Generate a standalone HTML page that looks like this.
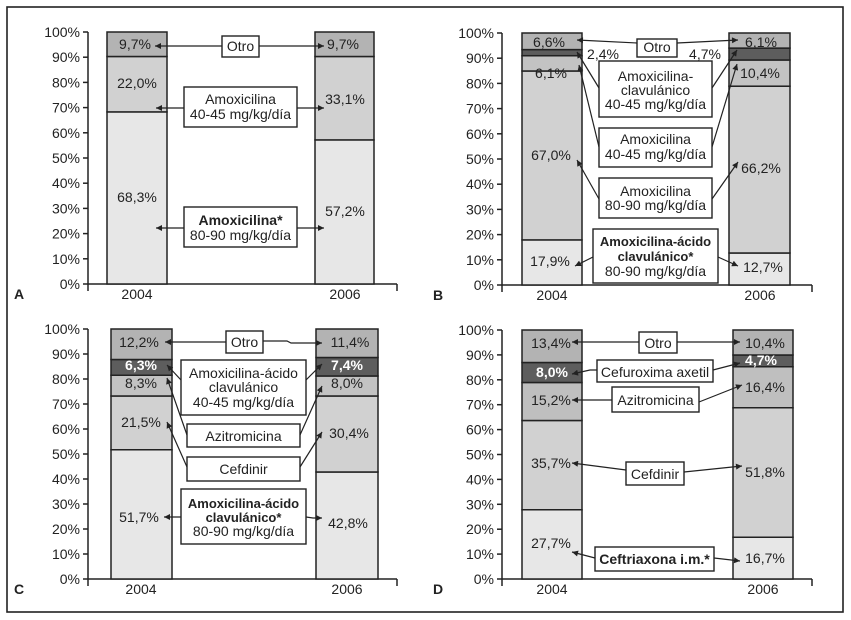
<!DOCTYPE html>
<html><head><meta charset="utf-8"><style>
html,body{margin:0;padding:0;background:#fff}
svg{display:block}
text{font-family:"Liberation Sans",Arial,sans-serif;font-size:14px;fill:#222}
.c{text-anchor:middle}
.e{text-anchor:end}
.b{font-weight:bold}
.w{fill:#fff;font-weight:bold}
.ax{stroke:#222;stroke-width:1.5;fill:none}
.a{stroke:#222;stroke-width:1.2;fill:none;marker-end:url(#ah)}
.bx{fill:#fff;stroke:#222;stroke-width:1.4}
.s{stroke:#222;stroke-width:1.5}
</style></head><body>
<svg width="851" height="620" viewBox="0 0 851 620" xmlns="http://www.w3.org/2000/svg">
<defs>
<marker id="ah" viewBox="0 0 10 10" refX="10" refY="5" markerWidth="8" markerHeight="6" markerUnits="userSpaceOnUse" orient="auto"><path d="M0,0 L10,5 L0,10 z" fill="#222"/></marker>
</defs>
<rect x="0" y="0" width="851" height="620" fill="#fff"/>
<rect x="7" y="7" width="836" height="605" fill="none" stroke="#222" stroke-width="1.6"/>

<!-- ================= PANEL A ================= -->
<g>
<line class="ax" x1="88" y1="32" x2="88" y2="284"/>
<line class="ax" x1="88" y1="284" x2="397" y2="284"/>
<line class="ax" x1="88" y1="284" x2="88" y2="291"/>
<line class="ax" x1="397" y1="284" x2="397" y2="291"/>
<g class="ax">
<line x1="83" y1="284" x2="88" y2="284"/><line x1="83" y1="258.8" x2="88" y2="258.8"/><line x1="83" y1="233.6" x2="88" y2="233.6"/><line x1="83" y1="208.4" x2="88" y2="208.4"/><line x1="83" y1="183.2" x2="88" y2="183.2"/><line x1="83" y1="158" x2="88" y2="158"/><line x1="83" y1="132.8" x2="88" y2="132.8"/><line x1="83" y1="107.6" x2="88" y2="107.6"/><line x1="83" y1="82.4" x2="88" y2="82.4"/><line x1="83" y1="57.2" x2="88" y2="57.2"/><line x1="83" y1="32" x2="88" y2="32"/>
</g>
<text class="e" x="80" y="289">0%</text><text class="e" x="80" y="263.8">10%</text><text class="e" x="80" y="238.6">20%</text><text class="e" x="80" y="213.4">30%</text><text class="e" x="80" y="188.2">40%</text><text class="e" x="80" y="163">50%</text><text class="e" x="80" y="137.8">60%</text><text class="e" x="80" y="112.6">70%</text><text class="e" x="80" y="87.4">80%</text><text class="e" x="80" y="62.2">90%</text><text class="e" x="80" y="37">100%</text>

<rect class="s" x="107" y="111.9" width="60" height="172.1" fill="#e7e7e7"/>
<rect class="s" x="107" y="56.5" width="60" height="55.4" fill="#d1d1d1"/>
<rect class="s" x="107" y="32" width="60" height="24.5" fill="#b3b3b3"/>
<rect class="s" x="315" y="139.9" width="59" height="144.1" fill="#e7e7e7"/>
<rect class="s" x="315" y="56.5" width="59" height="83.4" fill="#d1d1d1"/>
<rect class="s" x="315" y="32" width="59" height="24.5" fill="#b3b3b3"/>

<text class="c" x="137" y="299">2004</text>
<text class="c" x="345" y="299">2006</text>
<text class="b" x="14" y="299">A</text>

<text class="c" x="135" y="49">9,7%</text>
<text class="c" x="343" y="49">9,7%</text>
<text class="c" x="137" y="88">22,0%</text>
<text class="c" x="345" y="104">33,1%</text>
<text class="c" x="137" y="202">68,3%</text>
<text class="c" x="345" y="216">57,2%</text>

<line class="a" x1="222" y1="46" x2="155" y2="46"/>
<line class="a" x1="259" y1="46" x2="324" y2="46"/>
<rect class="bx" x="222" y="36" width="37" height="21"/>
<text class="c" x="240.5" y="51">Otro</text>

<line class="a" x1="184" y1="108" x2="156" y2="108"/>
<line class="a" x1="297" y1="108" x2="324" y2="108"/>
<rect class="bx" x="184" y="87" width="113" height="40"/>
<text class="c" x="240.5" y="104">Amoxicilina</text>
<text class="c" x="240.5" y="119">40-45 mg/kg/día</text>

<line class="a" x1="184" y1="228" x2="156" y2="228"/>
<line class="a" x1="297" y1="228" x2="324" y2="228"/>
<rect class="bx" x="184" y="207" width="113" height="40"/>
<text class="c b" x="240.5" y="225">Amoxicilina*</text>
<text class="c" x="240.5" y="240">80-90 mg/kg/día</text>
</g>

<!-- ================= PANEL B ================= -->
<g>
<line class="ax" x1="502" y1="33" x2="502" y2="285"/>
<line class="ax" x1="502" y1="285" x2="812" y2="285"/>
<line class="ax" x1="502" y1="285" x2="502" y2="292"/>
<line class="ax" x1="812" y1="285" x2="812" y2="292"/>
<g class="ax">
<line x1="497" y1="285" x2="502" y2="285"/><line x1="497" y1="259.8" x2="502" y2="259.8"/><line x1="497" y1="234.6" x2="502" y2="234.6"/><line x1="497" y1="209.4" x2="502" y2="209.4"/><line x1="497" y1="184.2" x2="502" y2="184.2"/><line x1="497" y1="159" x2="502" y2="159"/><line x1="497" y1="133.8" x2="502" y2="133.8"/><line x1="497" y1="108.6" x2="502" y2="108.6"/><line x1="497" y1="83.4" x2="502" y2="83.4"/><line x1="497" y1="58.2" x2="502" y2="58.2"/><line x1="497" y1="33" x2="502" y2="33"/>
</g>
<text class="e" x="494" y="290">0%</text><text class="e" x="494" y="264.8">10%</text><text class="e" x="494" y="239.6">20%</text><text class="e" x="494" y="214.4">30%</text><text class="e" x="494" y="189.2">40%</text><text class="e" x="494" y="164">50%</text><text class="e" x="494" y="138.8">60%</text><text class="e" x="494" y="113.6">70%</text><text class="e" x="494" y="88.4">80%</text><text class="e" x="494" y="63.2">90%</text><text class="e" x="494" y="38">100%</text>

<rect class="s" x="522" y="239.9" width="60" height="45.1" fill="#e7e7e7"/>
<rect class="s" x="522" y="71" width="60" height="168.9" fill="#d1d1d1"/>
<rect class="s" x="522" y="55.7" width="60" height="15.3" fill="#c3c3c3"/>
<rect class="s" x="522" y="49.6" width="60" height="6.1" fill="#5d5d5d"/>
<rect class="s" x="522" y="33" width="60" height="16.6" fill="#b3b3b3"/>
<rect class="s" x="729" y="253" width="61" height="32" fill="#e7e7e7"/>
<rect class="s" x="729" y="86.2" width="61" height="166.8" fill="#d1d1d1"/>
<rect class="s" x="729" y="60" width="61" height="26.2" fill="#c3c3c3"/>
<rect class="s" x="729" y="48.1" width="61" height="11.9" fill="#5d5d5d"/>
<rect class="s" x="729" y="33" width="61" height="15.1" fill="#b3b3b3"/>

<text class="c" x="552" y="300">2004</text>
<text class="c" x="760" y="300">2006</text>
<text class="b" x="433" y="300">B</text>

<text class="c" x="549" y="47">6,6%</text>
<text class="c" x="761" y="47">6,1%</text>
<text class="c" x="603" y="59">2,4%</text>
<text class="c" x="705" y="59">4,7%</text>
<text class="c" x="551" y="78">6,1%</text>
<text class="c" x="760" y="78">10,4%</text>
<text class="c" x="551" y="160">67,0%</text>
<text class="c" x="761" y="173">66,2%</text>
<text class="c" x="550" y="266">17,9%</text>
<text class="c" x="763" y="272">12,7%</text>

<line class="a" x1="637" y1="43" x2="577" y2="40"/>
<line class="a" x1="677" y1="43" x2="738" y2="40"/>
<rect class="bx" x="637" y="39" width="40" height="18"/>
<text class="c" x="657" y="52">Otro</text>

<line class="a" x1="599" y1="88" x2="577" y2="52"/>
<line class="a" x1="712" y1="88" x2="737" y2="50"/>
<line class="a" x1="599" y1="147" x2="579" y2="65"/>
<line class="a" x1="712" y1="147" x2="737" y2="64"/>
<line class="a" x1="599" y1="199" x2="577" y2="160"/>
<line class="a" x1="712" y1="199" x2="738" y2="162"/>
<line class="a" x1="593" y1="257" x2="575" y2="266"/>
<line class="a" x1="718" y1="257" x2="738" y2="266"/>

<rect class="bx" x="599" y="61" width="113" height="56"/>
<text class="c" x="655.5" y="81">Amoxicilina-</text>
<text class="c" x="655.5" y="95">clavulánico</text>
<text class="c" x="655.5" y="109">40-45 mg/kg/día</text>

<rect class="bx" x="599" y="128" width="113" height="39"/>
<text class="c" x="655.5" y="144">Amoxicilina</text>
<text class="c" x="655.5" y="159">40-45 mg/kg/día</text>

<rect class="bx" x="599" y="178" width="113" height="40"/>
<text class="c" x="655.5" y="196">Amoxicilina</text>
<text class="c" x="655.5" y="210">80-90 mg/kg/día</text>

<rect class="bx" x="593" y="229" width="125" height="54"/>
<text class="c b" x="655.5" y="246" style="font-size:13px">Amoxicilina-ácido</text>
<text class="c b" x="655.5" y="261" style="font-size:13px">clavulánico*</text>
<text class="c" x="655.5" y="276">80-90 mg/kg/día</text>
</g>

<!-- ================= PANEL C ================= -->
<g>
<line class="ax" x1="88" y1="329" x2="88" y2="579"/>
<line class="ax" x1="88" y1="579" x2="397" y2="579"/>
<line class="ax" x1="88" y1="579" x2="88" y2="586"/>
<line class="ax" x1="397" y1="579" x2="397" y2="586"/>
<g class="ax">
<line x1="83" y1="579" x2="88" y2="579"/><line x1="83" y1="554" x2="88" y2="554"/><line x1="83" y1="529" x2="88" y2="529"/><line x1="83" y1="504" x2="88" y2="504"/><line x1="83" y1="479" x2="88" y2="479"/><line x1="83" y1="454" x2="88" y2="454"/><line x1="83" y1="429" x2="88" y2="429"/><line x1="83" y1="404" x2="88" y2="404"/><line x1="83" y1="379" x2="88" y2="379"/><line x1="83" y1="354" x2="88" y2="354"/><line x1="83" y1="329" x2="88" y2="329"/>
</g>
<text class="e" x="80" y="584">0%</text><text class="e" x="80" y="559">10%</text><text class="e" x="80" y="534">20%</text><text class="e" x="80" y="509">30%</text><text class="e" x="80" y="484">40%</text><text class="e" x="80" y="459">50%</text><text class="e" x="80" y="434">60%</text><text class="e" x="80" y="409">70%</text><text class="e" x="80" y="384">80%</text><text class="e" x="80" y="359">90%</text><text class="e" x="80" y="334">100%</text>

<rect class="s" x="111" y="449.75" width="61" height="129.25" fill="#e7e7e7"/>
<rect class="s" x="111" y="396" width="61" height="53.75" fill="#d1d1d1"/>
<rect class="s" x="111" y="375.25" width="61" height="20.75" fill="#c3c3c3"/>
<rect class="s" x="111" y="359.5" width="61" height="15.75" fill="#5d5d5d"/>
<rect class="s" x="111" y="329" width="61" height="30.5" fill="#b3b3b3"/>
<rect class="s" x="316" y="472" width="62" height="107" fill="#e7e7e7"/>
<rect class="s" x="316" y="396" width="62" height="76" fill="#d1d1d1"/>
<rect class="s" x="316" y="376" width="62" height="20" fill="#c3c3c3"/>
<rect class="s" x="316" y="357.5" width="62" height="18.5" fill="#5d5d5d"/>
<rect class="s" x="316" y="329" width="62" height="28.5" fill="#b3b3b3"/>

<text class="c" x="141" y="594">2004</text>
<text class="c" x="347" y="594">2006</text>
<text class="b" x="14" y="594">C</text>

<text class="c" x="139" y="347">12,2%</text>
<text class="c" x="350" y="347">11,4%</text>
<text class="c w" x="141" y="370">6,3%</text>
<text class="c w" x="347" y="370">7,4%</text>
<text class="c" x="141" y="388">8,3%</text>
<text class="c" x="347" y="388">8,0%</text>
<text class="c" x="141" y="427">21,5%</text>
<text class="c" x="349" y="438">30,4%</text>
<text class="c" x="139" y="522">51,7%</text>
<text class="c" x="348" y="528">42,8%</text>

<line class="a" x1="226" y1="342" x2="165" y2="342"/>
<polyline class="a" points="263,341 287,341 291,343 322,343"/>
<rect class="bx" x="226" y="331" width="37" height="22"/>
<text class="c" x="244.5" y="347">Otro</text>

<line class="a" x1="181" y1="380" x2="167" y2="365"/>
<line class="a" x1="306" y1="380" x2="322" y2="364"/>
<line class="a" x1="187" y1="435" x2="167" y2="378"/>
<line class="a" x1="300" y1="435" x2="322" y2="386"/>
<line class="a" x1="187" y1="467" x2="167" y2="422"/>
<line class="a" x1="300" y1="467" x2="322" y2="432"/>
<line class="a" x1="181" y1="517" x2="164" y2="517"/>
<polyline class="a" points="306,517 313,518 322,518"/>

<rect class="bx" x="181" y="360" width="125" height="55"/>
<text class="c" x="243.5" y="378">Amoxicilina-ácido</text>
<text class="c" x="243.5" y="392">clavulánico</text>
<text class="c" x="243.5" y="407">40-45 mg/kg/día</text>

<rect class="bx" x="187" y="424" width="113" height="23"/>
<text class="c" x="243.5" y="441">Azitromicina</text>

<rect class="bx" x="187" y="457" width="113" height="24"/>
<text class="c" x="243.5" y="474">Cefdinir</text>

<rect class="bx" x="181" y="489" width="125" height="55"/>
<text class="c b" x="243.5" y="508" style="font-size:13px">Amoxicilina-ácido</text>
<text class="c b" x="243.5" y="522" style="font-size:13px">clavulánico*</text>
<text class="c" x="243.5" y="536">80-90 mg/kg/día</text>
</g>

<!-- ================= PANEL D ================= -->
<g>
<line class="ax" x1="502" y1="330" x2="502" y2="579"/>
<line class="ax" x1="502" y1="579" x2="812" y2="579"/>
<line class="ax" x1="502" y1="579" x2="502" y2="586"/>
<line class="ax" x1="812" y1="579" x2="812" y2="586"/>
<g class="ax">
<line x1="497" y1="579" x2="502" y2="579"/><line x1="497" y1="554.1" x2="502" y2="554.1"/><line x1="497" y1="529.2" x2="502" y2="529.2"/><line x1="497" y1="504.3" x2="502" y2="504.3"/><line x1="497" y1="479.4" x2="502" y2="479.4"/><line x1="497" y1="454.5" x2="502" y2="454.5"/><line x1="497" y1="429.6" x2="502" y2="429.6"/><line x1="497" y1="404.7" x2="502" y2="404.7"/><line x1="497" y1="379.8" x2="502" y2="379.8"/><line x1="497" y1="354.9" x2="502" y2="354.9"/><line x1="497" y1="330" x2="502" y2="330"/>
</g>
<text class="e" x="494" y="584">0%</text><text class="e" x="494" y="559.1">10%</text><text class="e" x="494" y="534.2">20%</text><text class="e" x="494" y="509.3">30%</text><text class="e" x="494" y="484.4">40%</text><text class="e" x="494" y="459.5">50%</text><text class="e" x="494" y="434.6">60%</text><text class="e" x="494" y="409.7">70%</text><text class="e" x="494" y="384.8">80%</text><text class="e" x="494" y="359.9">90%</text><text class="e" x="494" y="335">100%</text>

<rect class="s" x="522" y="509.75" width="60" height="69.25" fill="#e7e7e7"/>
<rect class="s" x="522" y="420.5" width="60" height="89.25" fill="#d1d1d1"/>
<rect class="s" x="522" y="382.5" width="60" height="38" fill="#bfbfbf"/>
<rect class="s" x="522" y="362.5" width="60" height="20" fill="#5d5d5d"/>
<rect class="s" x="522" y="330" width="60" height="32.5" fill="#b3b3b3"/>
<rect class="s" x="733" y="537.25" width="60" height="41.75" fill="#e7e7e7"/>
<rect class="s" x="733" y="407.75" width="60" height="129.5" fill="#d1d1d1"/>
<rect class="s" x="733" y="366.75" width="60" height="41" fill="#bfbfbf"/>
<rect class="s" x="733" y="355" width="60" height="11.75" fill="#5d5d5d"/>
<rect class="s" x="733" y="330" width="60" height="25" fill="#b3b3b3"/>

<text class="c" x="552" y="594">2004</text>
<text class="c" x="763" y="594">2006</text>
<text class="b" x="433" y="594">D</text>

<text class="c" x="551" y="348">13,4%</text>
<text class="c" x="765" y="348">10,4%</text>
<text class="c w" x="552" y="377">8,0%</text>
<text class="c w" x="761" y="365">4,7%</text>
<text class="c" x="551" y="405">15,2%</text>
<text class="c" x="765" y="392">16,4%</text>
<text class="c" x="551" y="468">35,7%</text>
<text class="c" x="765" y="477">51,8%</text>
<text class="c" x="551" y="548">27,7%</text>
<text class="c" x="765" y="563">16,7%</text>

<line class="a" x1="639" y1="342" x2="572" y2="342"/>
<line class="a" x1="677" y1="342" x2="740" y2="342"/>
<rect class="bx" x="639" y="332" width="38" height="21"/>
<text class="c" x="658" y="348">Otro</text>

<polyline class="a" points="597,370 590,370 572,374"/>
<line class="a" x1="713" y1="370" x2="740" y2="363"/>
<rect class="bx" x="597" y="360" width="116" height="22"/>
<text class="c" x="655" y="377">Cefuroxima axetil</text>

<line class="a" x1="612" y1="400" x2="572" y2="400"/>
<line class="a" x1="699" y1="402" x2="742" y2="385"/>
<rect class="bx" x="612" y="387" width="87" height="25"/>
<text class="c" x="655.5" y="405">Azitromicina</text>

<line class="a" x1="626" y1="470" x2="572" y2="463"/>
<line class="a" x1="684" y1="472" x2="742" y2="466"/>
<rect class="bx" x="626" y="462" width="58" height="23"/>
<text class="c" x="655" y="479">Cefdinir</text>

<line class="a" x1="595" y1="558" x2="572" y2="552"/>
<line class="a" x1="714" y1="558" x2="740" y2="561"/>
<rect class="bx" x="595" y="547" width="119" height="24"/>
<text class="c b" x="654.5" y="564">Ceftriaxona i.m.*</text>
</g>
</svg>
</body></html>
